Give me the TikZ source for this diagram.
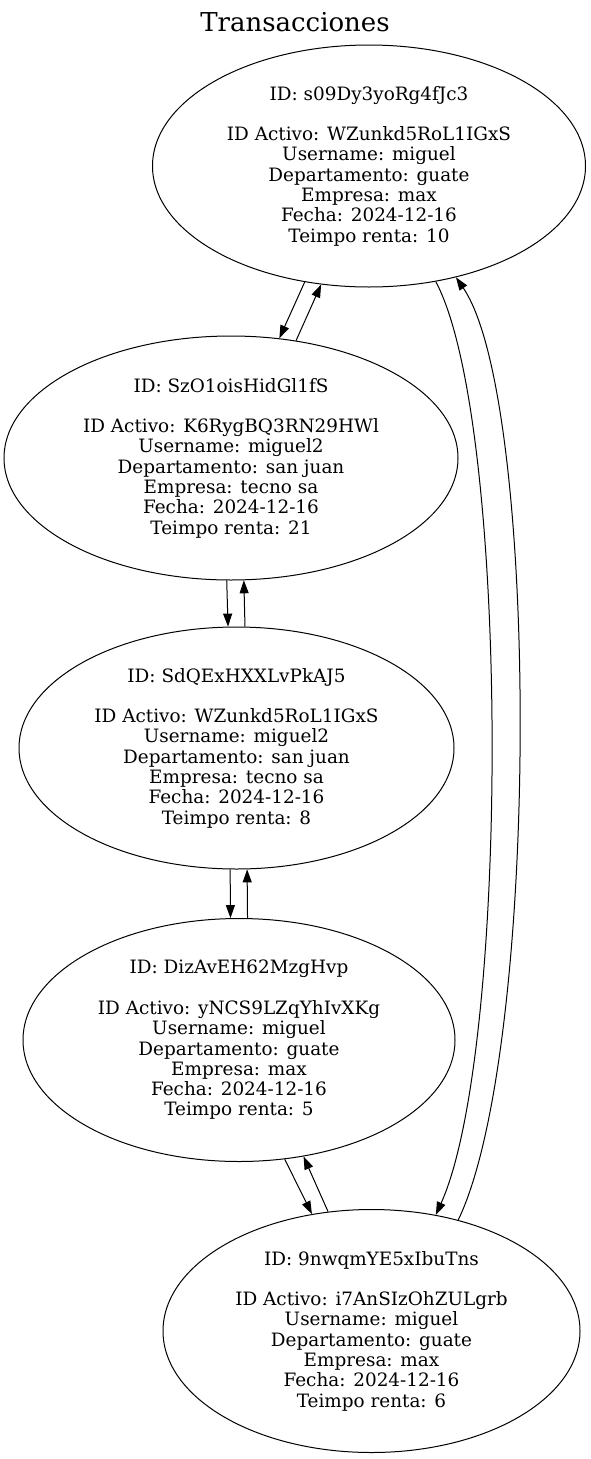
\documentclass[tikz,border=0pt]{standalone}
\usepackage{fontspec}
\setmainfont{DejaVu Serif}
\usetikzlibrary{shapes.geometric, arrows.meta, positioning}

\begin{document}
\begin{tikzpicture}[x=1pt, y=-1pt,
      txbox/.style={draw, ellipse, inner sep=0pt, line width=1pt,
                    font=\fontsize{18.4}{20.3}\selectfont, align=center},
      arr/.style={-{Triangle[length=13pt, width=9pt]}, line width=1pt}
    ]
      \useasboundingbox (0,0) rectangle (591,1459);
      \node[font=\fontsize{26}{30}\selectfont] (title) at (295,22) {Transacciones};

      \node[txbox, minimum width=433pt, minimum height=242pt] (t1) at (369,166)
        {ID: s09Dy3yoRg4fJc3\\[20.3pt] ID Activo: WZunkd5RoL1IGxS\\ Username: miguel\\ Departamento: guate\\ Empresa: max\\ Fecha: 2024-12-16\\ Teimpo renta: 10};
      \node[txbox, minimum width=454pt, minimum height=244pt] (t2) at (231,458)
        {ID: SzO1oisHidGl1fS\\[20.3pt] ID Activo: K6RygBQ3RN29HWl\\ Username: miguel2\\ Departamento: san juan\\ Empresa: tecno sa\\ Fecha: 2024-12-16\\ Teimpo renta: 21};
      \node[txbox, minimum width=435pt, minimum height=242pt] (t3) at (236.5,748)
        {ID: SdQExHXXLvPkAJ5\\[20.3pt] ID Activo: WZunkd5RoL1IGxS\\ Username: miguel2\\ Departamento: san juan\\ Empresa: tecno sa\\ Fecha: 2024-12-16\\ Teimpo renta: 8};
      \node[txbox, minimum width=432pt, minimum height=243pt] (t4) at (239,1040)
        {ID: DizAvEH62MzgHvp\\[20.3pt] ID Activo: yNCS9LZqYhIvXKg\\ Username: miguel\\ Departamento: guate\\ Empresa: max\\ Fecha: 2024-12-16\\ Teimpo renta: 5};
      \node[txbox, minimum width=417pt, minimum height=243pt] (t5) at (371.5,1331)
        {ID: 9nwqmYE5xIbuTns\\[20.3pt] ID Activo: i7AnSIzOhZULgrb\\ Username: miguel\\ Departamento: guate\\ Empresa: max\\ Fecha: 2024-12-16\\ Teimpo renta: 6};

      \draw[arr] (t1.-119) -- (t2.68.8);
      \draw[arr] (t2.61.5) -- (t1.-112);
      \draw[arr] (t2.-92.3) -- (t3.94.5);
      \draw[arr] (t3.86.9) -- (t2.-84.4);
      \draw[arr] (t3.-93.5) -- (t4.94.7);
      \draw[arr] (t4.86.2) -- (t3.-85);
      \draw[arr] (t4.-69) -- (t5.117.5);
      \draw[arr] (t5.110.8) -- (t4.-61.9);
      \draw[arr] (t1.-60) .. controls (510,420) and (510,1050) .. (t5.61.7);
      \draw[arr] (t5.52.9) .. controls (540,1050) and (540,400) .. (t1.-52);
    \end{tikzpicture}
\end{document}
